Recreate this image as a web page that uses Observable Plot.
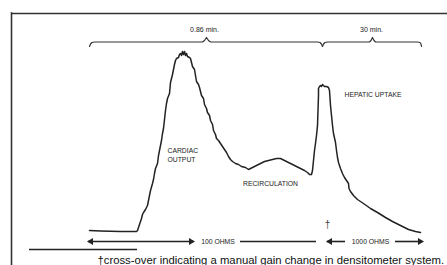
<!DOCTYPE html>
<html>
<head>
<meta charset="utf-8">
<script src="https://cdn.jsdelivr.net/npm/d3@7"></script>
<script src="https://cdn.jsdelivr.net/npm/@observablehq/plot@0.6"></script>
<style>
  html, body { margin: 0; padding: 0; background: #fff; }
  #wrap { width: 447px; height: 265px; overflow: hidden; }
</style>
</head>
<body>
<div id="wrap"></div>
<script>
// Densitometer trace: time position vs signal (arbitrary units, 0 = baseline)
const traceTime = [89,100,120,136,137,138,139,140,141,142,143,145,147,148,149,150,152,153,154,155,157,158,159,160,161,162,163,164,165,166,167,169,170,171,172,173,174,175,176,178,179,180,181,182,183,184,185,186,187,189,190,191,192,194,195,196,198,199,200,201,203,204,206,207,209,210,212,213,215,216,218,220,222,224,226,228,230,232,235,238,241,245,248,252,256,260,264,268,272,276,280,284,288,292,296,300,304,307,309,311,312,313,314,315,316,317,317.5,318,318,319,320,321,322,323,324,326,328,329,330,331,332,333,335,336,337,338,340,342,344,346,348,348.5,350,353,357,363,370,377,385,392,400,408,415,420];
const traceSignal = [1,0.5,0,0,1,4,7,10,13,17,19,22,26,31,36,41,48,52,58,63,68,76,81,86,91,98,103,112,121,128,133,138,149,153,157,162,167,171,173,174,177,178,176,180,177,180,176,178,175,174,173,169,165,162,156,150,147,144,140,136,133,127,123,119,116,111,107,101,97,93,91,88,85,82,79,75,72,70,68,67,65,64,62,64,66,68,70,71,72,73,73,71,69,67,65,63,61,59,57,57,61,71,81,88,96,106,121,136,143,145,146,145,147,146,145,145,144,141,126,116,106,98,89,81,74,69,63,58,54,51,48,43,40,36,32,28,23,19,14,10,6,2,0,-1];

// Time-span braces
const braceGroup = ["a","a","a","a","a","a","a","a","a","a","a","a","a","b","b","b","b","b","b","b","b","b","b","b","b","b"];
const braceTime = [89,90,91.5,94,202,204,206,208,210,317,319.5,321,322, 322,323,324.5,327,369,370.5,372,373.5,375,417,419.5,420.5,421];
const braceLevel = [185,187.5,189,189.5,189.5,191,194,191,189.5,189.5,189,187.5,185, 185,187.5,189,189.5,189.5,191,194,191,189.5,189.5,189,187.5,185];
const braceLabels = ["0.86 min.", "30 min."];
const braceLabelTime = [204, 371];

// Gain-range arrows
const gainSegStart = [88, 240, 327, 395];
const gainSegEnd = [193, 316, 345, 422];
const gainHeadTime = [90.5, 190.5, 329.5, 419.5];
const gainHeadDir = [-90, 90, -90, 90];
const gainLabels = ["100 OHMS", "1000 OHMS"];
const gainLabelTime = [217.5, 370];

// Region annotations
const regionLabels = ["CARDIAC", "OUTPUT", "RECIRCULATION", "HEPATIC UPTAKE"];
const regionTime = [167, 167, 270, 344];
const regionLevel = [81, 72, 48, 137];
const regionAnchor = ["start", "start", "middle", "start"];

const caption = "\u2020cross-over indicating a manual gain change in densitometer system.";

// Panel frame (left and top edges only)
const frameLeft = 11;
const frameTop = 218;

const ink = "#222";
const font = "'Liberation Sans', Arial, Helvetica, sans-serif";

const trace = traceTime.map((t, i) => ({t, s: traceSignal[i]}));
const braces = braceTime.map((t, i) => ({t, s: braceLevel[i], g: braceGroup[i]}));
const segs = gainSegStart.map((a, i) => ({x1: a, x2: gainSegEnd[i], y: -10}));
const heads = gainHeadTime.map((t, i) => ({t, r: gainHeadDir[i], y: -10}));
const regions = regionLabels.map((l, i) => ({l, t: regionTime[i], s: regionLevel[i], a: regionAnchor[i]}));

const chart = Plot.plot({
  width: 447,
  height: 265,
  margin: 0,
  x: {domain: [0, 447], axis: null},
  y: {domain: [-34, 231], axis: null},
  style: {background: "#fff", fontFamily: font, color: ink},
  marks: [
    Plot.ruleX([frameLeft], {y1: frameTop + 0.8, y2: -34, stroke: "#333", strokeWidth: 1.6}),
    Plot.ruleY([frameTop], {x1: frameLeft, x2: 447, stroke: "#333", strokeWidth: 1.6}),
    Plot.line(trace, {x: "t", y: "s", stroke: ink, strokeWidth: 1.5, strokeLinejoin: "round"}),
    Plot.line(braces, {x: "t", y: "s", z: "g", stroke: "#333", strokeWidth: 1.2}),
    Plot.text(braceLabels, {x: (d, i) => braceLabelTime[i], y: 202, text: d => d, fontSize: 7, fill: ink}),
    Plot.text(regions.filter(d => d.a === "start"), {x: "t", y: "s", text: "l", textAnchor: "start", fontSize: 6.8, fill: ink}),
    Plot.text(regions.filter(d => d.a === "middle"), {x: "t", y: "s", text: "l", textAnchor: "middle", fontSize: 6.8, fill: ink}),
    Plot.ruleY(segs, {x1: "x1", x2: "x2", y: "y", stroke: ink, strokeWidth: 1.6}),
    Plot.dot(heads, {x: "t", y: "y", symbol: "triangle", rotate: "r", r: 2.6, fill: ink, stroke: "none"}),
    Plot.text(gainLabels, {x: (d, i) => gainLabelTime[i], y: -10, text: d => d, fontSize: 6.8, fill: ink}),
    Plot.text(["\u2020"], {x: 327, y: 6.5, text: d => d, fontSize: 10, fill: "#444"}),
    Plot.ruleY([-18], {x1: 29, x2: 137, stroke: ink, strokeWidth: 1.6}),
    Plot.text([caption], {x: 97, y: -28.5, text: d => d, textAnchor: "start", fontSize: 11.3, fill: "#111"})
  ]
});
document.getElementById("wrap").appendChild(chart);
</script>
</body>
</html>
